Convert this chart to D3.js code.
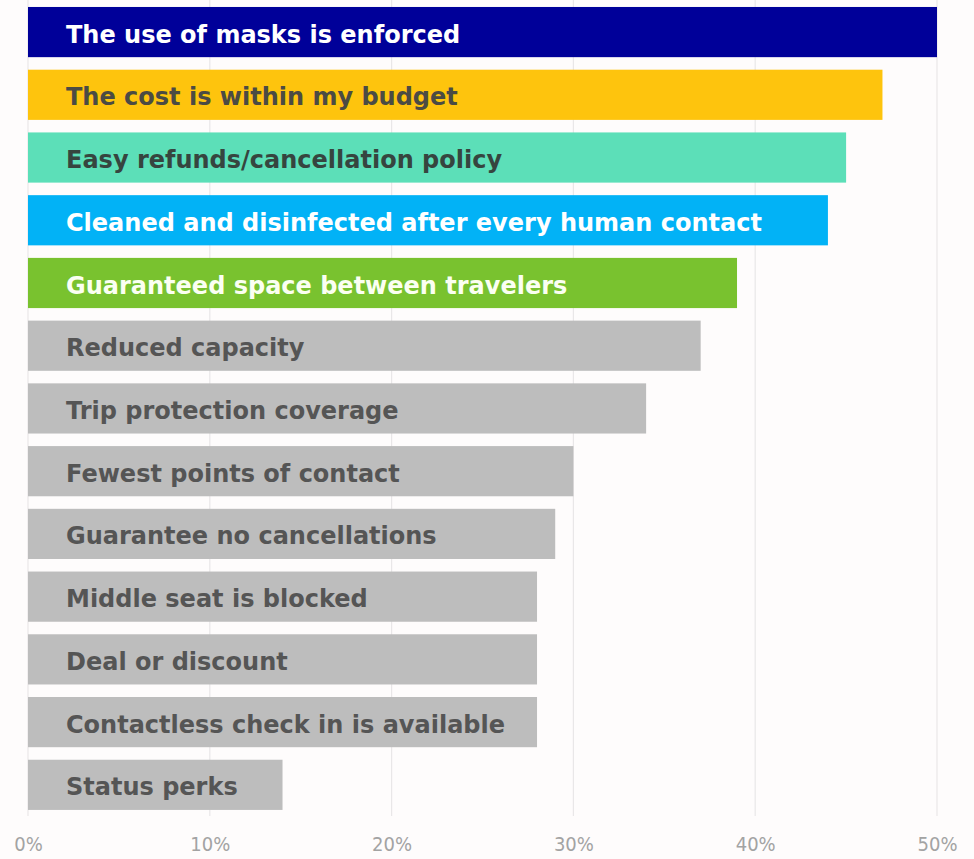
<!DOCTYPE html>
<html>
<head>
<meta charset="utf-8">
<script src="https://cdn.jsdelivr.net/npm/d3@7/dist/d3.min.js"></script>
<style>
  html, body { margin: 0; padding: 0; background: #fefcfc; }
  svg { display: block; }
</style>
</head>
<body>
<div id="chart"></div>
<script>
// Travel booking factors, share of respondents (%)
const categories = [
  "The use of masks is enforced",
  "The cost is within my budget",
  "Easy refunds/cancellation policy",
  "Cleaned and disinfected after every human contact",
  "Guaranteed space between travelers",
  "Reduced capacity",
  "Trip protection coverage",
  "Fewest points of contact",
  "Guarantee no cancellations",
  "Middle seat is blocked",
  "Deal or discount",
  "Contactless check in is available",
  "Status perks"
];
const values = [50, 47, 45, 44, 39, 37, 34, 30, 29, 28, 28, 28, 14];
const barColors = ["#000099", "#fec40d", "#5cdfb8", "#02b2f6", "#79c22f",
  "#bdbdbd", "#bdbdbd", "#bdbdbd", "#bdbdbd", "#bdbdbd", "#bdbdbd", "#bdbdbd", "#bdbdbd"];
const labelColors = ["#ffffff", "#4b4b44", "#36453f", "#ffffff", "#fbfff2",
  "#555555", "#555555", "#555555", "#555555", "#555555", "#555555", "#555555", "#555555"];
const tickValues = [0, 10, 20, 30, 40, 50];

const width = 974, height = 859;
const svg = d3.select("#chart").append("svg")
  .attr("width", width).attr("height", height);

const x = d3.scaleLinear().domain([0, 50]).range([28, 937]);
const y = d3.scaleBand().domain(categories).range([0.7, 816.2])
  .paddingInner(0.2).paddingOuter(0.1);

// vertical gridlines
svg.append("g").selectAll("line").data(tickValues).join("line")
  .attr("x1", d => x(d)).attr("x2", d => x(d))
  .attr("y1", 0).attr("y2", 816)
  .attr("stroke", "#e9e7e8").attr("stroke-width", 1.2);

// tick labels
const axis = d3.axisBottom(x).tickValues(tickValues)
  .tickFormat(d => d + "%").tickSize(0).tickPadding(0);
const ax = svg.append("g").attr("transform", "translate(0,837)").call(axis);
ax.select(".domain").remove();
ax.selectAll("text")
  .attr("font-family", "'Century Gothic', 'Liberation Sans Narrow', 'DejaVu Sans Condensed', sans-serif")
  .attr("font-size", 20)
  .attr("fill", "#a3a3a3")
  .attr("dy", "0.72em");

// bars
svg.append("g").selectAll("rect").data(categories).join("rect")
  .attr("x", x(0))
  .attr("y", d => y(d))
  .attr("width", (d, i) => x(values[i]) - x(0))
  .attr("height", y.bandwidth())
  .attr("fill", (d, i) => barColors[i]);

// labels inside the bars
svg.append("g").selectAll("text").data(categories).join("text")
  .attr("x", 66)
  .attr("y", d => y(d) + y.bandwidth() / 2)
  .attr("dy", "0.44em")
  .attr("font-family", "'Century Gothic', 'DejaVu Sans', sans-serif")
  .attr("font-weight", "bold")
  .attr("font-size", 24)
  .attr("fill", (d, i) => labelColors[i])
  .text(d => d);
</script>
</body>
</html>
